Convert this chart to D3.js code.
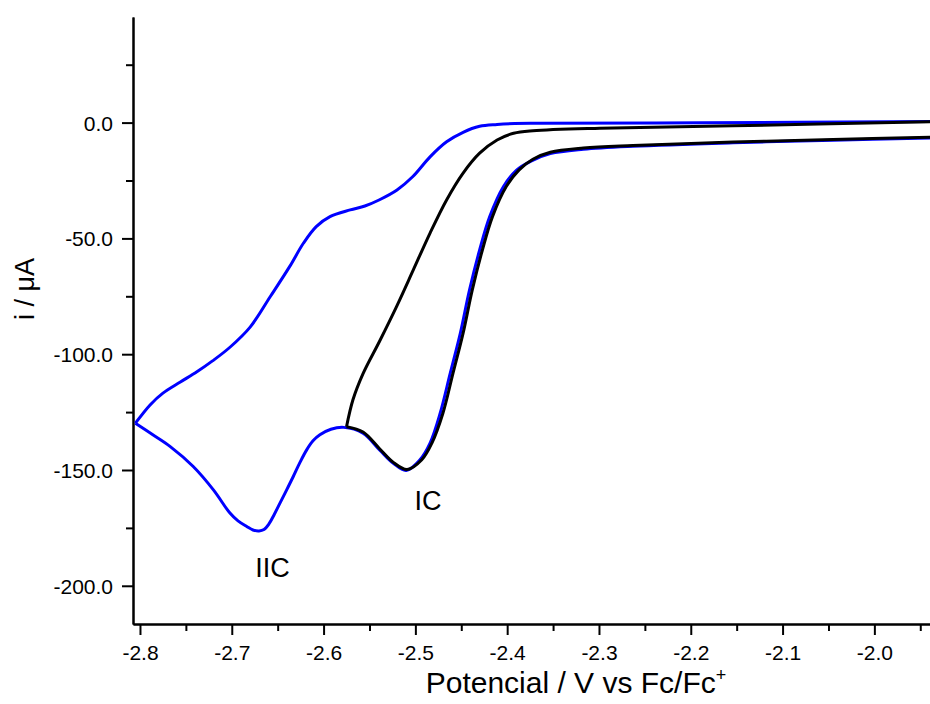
<!DOCTYPE html>
<html>
<head>
<meta charset="utf-8">
<script src="https://cdn.jsdelivr.net/npm/d3@7"></script>
<style>
  html, body { margin: 0; padding: 0; background: #fff; }
  svg { display: block; font-family: "Liberation Sans", Arial, sans-serif; }
</style>
</head>
<body>
<svg id="chart" width="930" height="704"></svg>
<script>
// ---- data (potential in V vs Fc/Fc+, current in µA) ----
// blue scan, forward (cathodic) branch, from right end to switching vertex
const blueFwdV = [-1.939, -2.045, -2.154, -2.263, -2.317, -2.353, -2.374, -2.390, -2.404, -2.419, -2.430, -2.441, -2.451, -2.462, -2.473, -2.484, -2.495, -2.510, -2.524, -2.539, -2.557, -2.578, -2.592, -2.604, -2.6115, -2.6184, -2.6257, -2.633, -2.6402, -2.6475, -2.654, -2.6595, -2.6649, -2.6703, -2.6769, -2.6837, -2.6932, -2.702, -2.720, -2.742, -2.767, -2.786, -2.805];
const blueFwdI = [-6.6, -7.6, -8.7, -10.2, -11.5, -13.4, -16.6, -20.6, -27.6, -40.6, -55.0, -72.2, -90.9, -108.2, -125.5, -138.4, -145.6, -150.2, -147.1, -141.3, -134.1, -131.6, -132.4, -134.8, -137.4, -141.3, -146.7, -152.8, -158.6, -164.3, -169.4, -173.3, -175.7, -176.3, -175.9, -174.4, -172.0, -168.6, -158.6, -148.5, -139.9, -134.8, -129.8];
// blue scan, reverse branch, from vertex to right end
const blueRevV = [-2.805, -2.789, -2.775, -2.756, -2.738, -2.721, -2.702, -2.680, -2.658, -2.637, -2.622, -2.608, -2.593, -2.571, -2.555, -2.539, -2.520, -2.503, -2.484, -2.466, -2.448, -2.430, -2.411, -2.392, -2.364, -2.190, -1.939];
const blueRevI = [-129.8, -121.9, -116.8, -112.0, -107.6, -102.9, -97.0, -88.3, -75.1, -62.2, -52.1, -44.9, -40.6, -37.7, -36.0, -33.3, -29.1, -23.4, -14.8, -8.3, -4.2, -1.6, -0.8, -0.4, -0.3, -0.1, 0.5];
// black scan, forward branch, from right end to vertex
const blackFwdV = [-1.939, -2.045, -2.154, -2.263, -2.317, -2.353, -2.372, -2.387, -2.401, -2.416, -2.427, -2.438, -2.448, -2.459, -2.470, -2.482, -2.493, -2.509, -2.524, -2.539, -2.557, -2.575];
const blackFwdI = [-6.3, -7.3, -8.4, -9.9, -11.0, -12.8, -15.8, -20.4, -27.6, -40.6, -55.0, -72.2, -90.9, -108.2, -125.5, -138.4, -145.6, -149.8, -146.7, -140.8, -133.6, -131.3];
// black scan, reverse branch, from vertex to right end
const blackRevV = [-2.575, -2.568, -2.557, -2.539, -2.520, -2.502, -2.484, -2.466, -2.448, -2.430, -2.411, -2.393, -2.372, -2.299, -2.154, -1.939];
const blackRevI = [-131.3, -119.7, -108.4, -94.4, -79.0, -63.4, -47.7, -33.4, -21.8, -13.2, -7.5, -4.6, -3.5, -2.4, -1.4, 0.4];

const xTicks = [-2.8, -2.7, -2.6, -2.5, -2.4, -2.3, -2.2, -2.1, -2.0];
const xMinorTicks = [-2.75, -2.65, -2.55, -2.45, -2.35, -2.25, -2.15, -2.05, -1.95];
const yTicks = [0, -50, -100, -150, -200];
const yMinorTicks = [25, -25, -75, -125, -175];

const peakLabels = ["IIC", "IC"];
const peakLabelV = [-2.6556, -2.4863];
const peakLabelI = [-196.2, -167.2];

// ---- layout ----
const svg = d3.select("#chart");
const x = d3.scaleLinear().domain([-2.8076, -1.9394]).range([133, 930]);
const y = d3.scaleLinear().domain([-216.5, 45.6]).range([624, 17]);

const fmtX = d => d.toFixed(1);
const fmtY = d => d.toFixed(1);

// axes
const xAxis = svg.append("g").attr("transform", "translate(0,624)")
  .call(d3.axisBottom(x).tickValues(xTicks).tickFormat(fmtX).tickSize(11).tickSizeOuter(0));
const xMinor = svg.append("g").attr("transform", "translate(0,624)")
  .call(d3.axisBottom(x).tickValues(xMinorTicks).tickFormat("").tickSize(7).tickSizeOuter(0));
const yAxis = svg.append("g").attr("transform", "translate(133,0)")
  .call(d3.axisLeft(y).tickValues(yTicks).tickFormat(fmtY).tickSize(11).tickSizeOuter(0));
const yMinor = svg.append("g").attr("transform", "translate(133,0)")
  .call(d3.axisLeft(y).tickValues(yMinorTicks).tickFormat("").tickSize(7).tickSizeOuter(0));

[xAxis, xMinor, yAxis, yMinor].forEach(g => {
  g.selectAll(".domain").attr("stroke", "#000").attr("stroke-width", 2);
  g.selectAll(".tick line").attr("stroke", "#000").attr("stroke-width", 2);
  g.selectAll(".tick text").attr("fill", "#000").attr("font-size", 21)
    .attr("font-family", "'Liberation Sans', Arial, sans-serif");
});
xAxis.selectAll(".tick text").attr("dy", null).attr("y", 36);
yAxis.selectAll(".tick text").attr("x", -20).attr("dy", "0.36em");

// curves
const line = d3.line().x(d => x(d[0])).y(d => y(d[1])).curve(d3.curveCatmullRom.alpha(0.5));
const zip = (a, b) => a.map((v, i) => [v, b[i]]);

const series = [
  { v: blueFwdV, i: blueFwdI, color: "#0000ff" },
  { v: blueRevV, i: blueRevI, color: "#0000ff" },
  { v: blackFwdV, i: blackFwdI, color: "#000000" },
  { v: blackRevV, i: blackRevI, color: "#000000" }
];
svg.append("g").selectAll("path").data(series).join("path")
  .attr("d", s => line(zip(s.v, s.i)))
  .attr("fill", "none")
  .attr("stroke", s => s.color)
  .attr("stroke-width", 3)
  .attr("stroke-linejoin", "miter");

// peak labels
svg.append("g").selectAll("text").data(peakLabels).join("text")
  .attr("x", (d, k) => x(peakLabelV[k]))
  .attr("y", (d, k) => y(peakLabelI[k]))
  .attr("text-anchor", "middle")
  .attr("font-size", 27)
  .attr("fill", "#000")
  .text(d => d);

// axis titles
const xt = svg.append("text")
  .attr("x", 576).attr("y", 693)
  .attr("text-anchor", "middle")
  .attr("font-size", 30)
  .attr("fill", "#000");
xt.append("tspan").text("Potencial / V vs Fc/Fc");
xt.append("tspan").attr("dy", -12).attr("font-size", 18).text("+");

svg.append("text")
  .attr("transform", "translate(34,289) rotate(-90)")
  .attr("text-anchor", "middle")
  .attr("font-size", 27)
  .attr("fill", "#000")
  .text("i / μA");
</script>
</body>
</html>
